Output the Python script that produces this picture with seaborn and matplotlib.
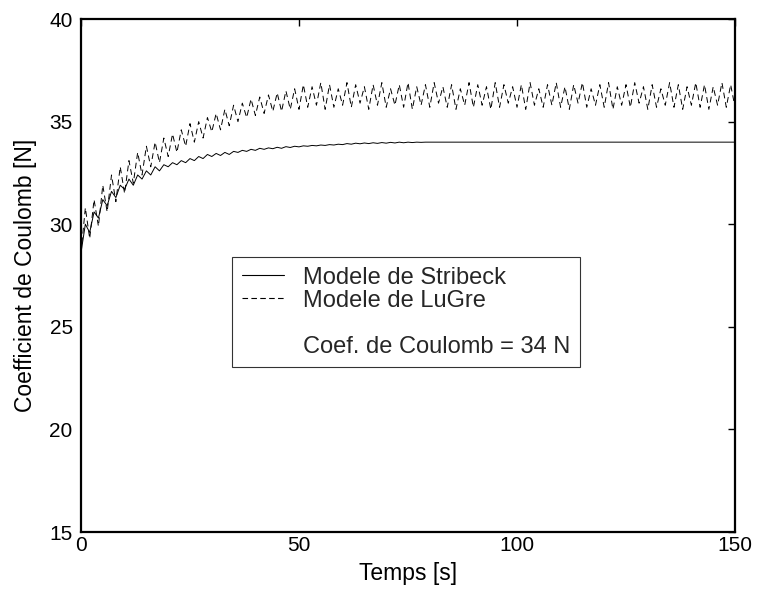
import numpy as np
import pandas as pd
import matplotlib
matplotlib.use("Agg")
import matplotlib.pyplot as plt
from matplotlib.lines import Line2D
import seaborn as sns

# ---- data ----
temps = list(range(0, 151))  # seconds, 1 s sampling

stribeck = [
    28.6, 30.0, 29.6, 30.6, 30.3, 31.2, 30.9, 31.6, 31.3, 31.9,
    31.7, 32.2, 31.9, 32.4, 32.2, 32.6, 32.4, 32.8, 32.6, 32.9,
    32.8, 33.0, 32.9, 33.1, 33.0, 33.2, 33.1, 33.3, 33.2, 33.4,
    33.3, 33.45, 33.35, 33.5, 33.4, 33.55, 33.5, 33.6, 33.55, 33.65,
    33.6, 33.7, 33.65, 33.72, 33.68, 33.75, 33.7, 33.78, 33.74, 33.8,
    33.77, 33.82, 33.8, 33.84, 33.82, 33.86, 33.84, 33.88, 33.86, 33.9,
    33.88, 33.93, 33.9, 33.95, 33.92, 33.96, 33.93, 33.97, 33.94, 33.98,
    33.95, 33.99, 33.96, 34.0, 33.97, 34.0, 33.98, 34.0, 33.99, 34.0,
    34.0, 34.0, 34.0, 34.0, 34.0, 34.0, 34.0, 34.0, 34.0, 34.0,
    34.0, 34.0, 34.0, 34.0, 34.0, 34.0, 34.0, 34.0, 34.0, 34.0,
    34.0, 34.0, 34.0, 34.0, 34.0, 34.0, 34.0, 34.0, 34.0, 34.0,
    34.0, 34.0, 34.0, 34.0, 34.0, 34.0, 34.0, 34.0, 34.0, 34.0,
    34.0, 34.0, 34.0, 34.0, 34.0, 34.0, 34.0, 34.0, 34.0, 34.0,
    34.0, 34.0, 34.0, 34.0, 34.0, 34.0, 34.0, 34.0, 34.0, 34.0,
    34.0, 34.0, 34.0, 34.0, 34.0, 34.0, 34.0, 34.0, 34.0, 34.0,
    34.0,
]

lugre = [
    28.6, 30.8, 29.3, 31.2, 29.9, 31.9, 30.6, 32.4, 31.1, 32.8,
    31.5, 33.1, 32.0, 33.5, 32.4, 33.8, 32.8, 34.0, 33.0, 34.2,
    33.3, 34.4, 33.5, 34.6, 33.8, 34.9, 34.0, 35.0, 34.2, 35.2,
    34.5, 35.4, 34.6, 35.6, 34.8, 35.8, 35.0, 35.9, 35.2, 36.1,
    35.3, 36.2, 35.4, 36.3, 35.5, 36.4, 35.5, 36.5, 35.6, 36.6,
    35.6,
    36.8, 35.7, 36.7, 35.8, 36.9, 35.6, 36.8, 35.7, 36.6, 35.8,
    36.9, 35.7, 36.8, 35.9, 36.7, 35.6, 36.8, 35.8, 36.9, 35.7,
    36.6, 35.8, 36.8, 35.7, 36.9, 35.6, 36.7, 35.8, 36.8, 35.7,
    36.9, 35.9, 36.7, 35.7, 36.8, 35.6, 36.6, 35.8, 36.9, 35.7,
    36.8, 35.8, 36.7, 35.6, 36.9, 35.7, 36.8, 35.9, 36.7, 35.7,
    36.8, 35.6, 36.9, 35.8, 36.6, 35.7, 36.8, 35.8, 36.9, 35.7,
    36.7, 35.6, 36.8, 35.9, 36.9, 35.7, 36.6, 35.8, 36.8, 35.7,
    36.9, 35.6, 36.7, 35.8, 36.8, 35.7, 36.9, 35.9, 36.7, 35.6,
    36.8, 35.7, 36.6, 35.8, 36.9, 35.7, 36.8, 35.6, 36.7, 35.8,
    36.9, 35.7, 36.8, 35.6, 36.7, 35.8, 36.9, 35.7, 36.8, 35.7,
]

labels = ["Modele de Stribeck", "Modele de LuGre"]
note = "Coef. de Coulomb = 34 N"
xticks = [0, 50, 100, 150]
yticks = [15, 20, 25, 30, 35, 40]

df = pd.DataFrame({
    "t": temps + temps,
    "v": stribeck + lugre,
    "modele": [labels[0]] * len(temps) + [labels[1]] * len(temps),
})

sns.set_theme(style="white")
plt.rcParams["font.family"] = ["Liberation Sans", "DejaVu Sans"]

fig = plt.figure(figsize=(7.59, 5.91), dpi=100)
ax = fig.add_axes([0.1067, 0.0998, 0.8617, 0.868])

sns.lineplot(
    data=df, x="t", y="v", style="modele", color="black",
    dashes={labels[0]: "", labels[1]: (6, 4)},
    estimator=None, sort=False, linewidth=0.7, legend=False, ax=ax,
)

ax.set_xlim(0, 150)
ax.set_ylim(15, 40)
ax.set_xticks(xticks)
ax.set_yticks(yticks)
ax.tick_params(direction="in", length=5, width=1, top=True, right=True,
               labelsize=15, colors="black")
ax.tick_params(axis="x", pad=3)
ax.tick_params(axis="y", pad=6)
for s in ax.spines.values():
    s.set_color("black")
    s.set_linewidth(1.6)
ax.set_xlabel("Temps [s]", fontsize=16.5, color="black", labelpad=5)
ax.set_ylabel("Coefficient de Coulomb [N]", fontsize=16.5, color="black", labelpad=9)

handles = [
    Line2D([], [], color="black", lw=0.8, ls="-"),
    Line2D([], [], color="black", lw=0.8, ls=(0, (5, 3))),
    Line2D([], [], color="none"),
    Line2D([], [], color="none"),
]
leg = ax.legend(handles, labels + [" ", note], loc="upper left",
                bbox_to_anchor=(0.231, 0.536), frameon=True, fancybox=False,
                fontsize=17, handlelength=1.8, handletextpad=0.8,
                labelspacing=0.05, borderpad=0.4, borderaxespad=0)
leg.get_frame().set_edgecolor("black")
leg.get_frame().set_linewidth(0.8)

fig.savefig("out.png", dpi=100)
